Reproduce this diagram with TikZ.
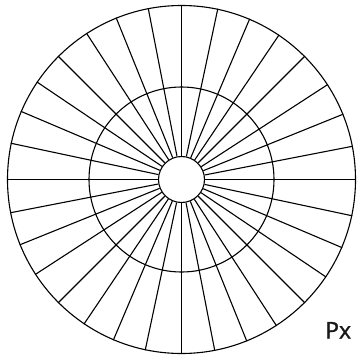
\documentclass[tikz,border=0pt]{standalone}
\usepackage{fontspec}
\newfontfamily\pxfont[FakeBold=1.2]{Open Sans}
\tikzset{
  ring/.style={draw=black, line width=1.1pt},
  spoke/.style={draw=black, line width=1.1pt},
  axisline/.style={draw=black, line width=1.8pt},
  lbl/.style={font=\pxfont\fontsize{23}{23}\selectfont, text=black!90, inner sep=0pt}
}
\begin{document}
\begin{tikzpicture}[x=1pt,y=-1pt]
\useasboundingbox (0,0) rectangle (357,356);
\coordinate (c) at (181.5,179.5);
\node[ring, circle, minimum size=348pt, inner sep=0pt] (outer) at (c) {};
\node[ring, circle, minimum size=185pt, inner sep=0pt] (middle) at (c) {};
\node[ring, circle, minimum size=46pt, inner sep=0pt] (inner) at (c) {};
\foreach \i in {0,...,31}{
  \pgfmathsetmacro{\a}{\i*11.25}
  \draw[spoke] (inner.\a) -- (outer.\a);
}
\draw[axisline] (inner.north) -- (outer.north);
\draw[axisline] (inner.south) -- (outer.south);
\node[lbl, anchor=base west] (px) at (325,338.5) {Px};
\end{tikzpicture}
\end{document}
